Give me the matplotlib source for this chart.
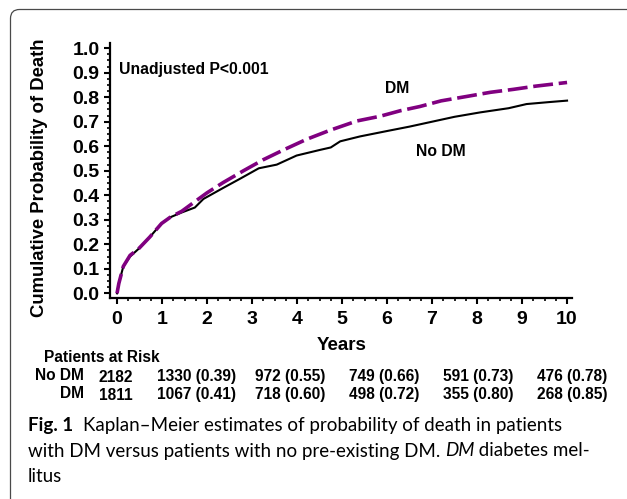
import matplotlib
matplotlib.use("Agg")
import matplotlib.pyplot as plt
from matplotlib.patches import FancyBboxPatch
from matplotlib.transforms import IdentityTransform
from matplotlib.ticker import MultipleLocator
import numpy as np

# Kaplan-Meier curves
t_nodm = [0, 0.04, 0.14, 0.29, 0.47, 0.73, 0.99, 1.18, 1.44, 1.73, 1.92, 2.36, 2.73,
          3.15, 3.55, 3.99, 4.51, 4.75, 4.96, 5.4, 6.0, 6.5, 7.0, 7.5, 8.07, 8.7,
          9.1, 9.6, 10]
p_nodm = [0, 0.04, 0.11, 0.15, 0.18, 0.23, 0.285, 0.31, 0.33, 0.35, 0.385, 0.43, 0.467,
          0.51, 0.525, 0.562, 0.585, 0.595, 0.62, 0.64, 0.662, 0.68, 0.70, 0.72, 0.738,
          0.755, 0.772, 0.78, 0.786]
t_dm = [0, 0.04, 0.14, 0.29, 0.47, 0.73, 0.99, 1.18, 1.44, 1.73, 2.0, 2.36, 2.81, 3.25,
        3.7, 4.21, 4.73, 5.33, 5.84, 6.3, 6.73, 7.2, 7.77, 8.3, 8.81, 9.3, 10]
p_dm = [0, 0.04, 0.11, 0.155, 0.18, 0.23, 0.285, 0.31, 0.335, 0.374, 0.41, 0.452, 0.5,
        0.545, 0.585, 0.628, 0.665, 0.703, 0.722, 0.745, 0.762, 0.785, 0.803, 0.82,
        0.832, 0.845, 0.86]

# patients at risk table
risk_groups = ["No DM", "DM"]
risk_start = ["2182", "1811"]
risk_nodm = ["1330 (0.39)", "972 (0.55)", "749 (0.66)", "591 (0.73)", "476 (0.78)"]
risk_dm = ["1067 (0.41)", "718 (0.60)", "498 (0.72)", "355 (0.80)", "268 (0.85)"]

caption_bold = "Fig. 1"
caption_lines = ["Kaplan\u2013Meier estimates of probability of death in patients",
                 "with DM versus patients with no pre-existing DM. ",
                 "litus"]

W, H = 627, 499
fig = plt.figure(figsize=(W / 100, H / 100), dpi=100)
plt.rcParams["font.family"] = ["Liberation Sans", "DejaVu Sans"]


def fx(x):
    return x / W


def fy(y):
    return 1 - y / H


# rounded frame around the figure panel
frame = FancyBboxPatch((10.5, -60), 700, H - 9.5 + 60,
                       boxstyle="round,pad=0,rounding_size=9",
                       transform=IdentityTransform(), fill=False,
                       edgecolor="#4a4a4a", linewidth=0.9)
fig.patches.append(frame)

ax = fig.add_axes([fx(110), fy(298), fx(572) - fx(110), fy(43) - fy(298)])
ax.plot(t_nodm, p_nodm, color="black", linewidth=1.5)
ax.plot(t_dm, p_dm, color="#800080", linewidth=2.6, dashes=(5.5, 1.6))

ax.set_xlim(-0.156, 10.11)
ax.set_ylim(-0.019, 1.021)
ax.spines["top"].set_visible(False)
ax.spines["right"].set_visible(False)
for s in ["left", "bottom"]:
    ax.spines[s].set_linewidth(1.6)
ax.set_xticks(range(0, 11))
ax.set_yticks(np.round(np.arange(0, 1.01, 0.1), 1))
ax.set_yticklabels([f"{v:.1f}" for v in np.arange(0, 1.01, 0.1)])
ax.xaxis.set_minor_locator(MultipleLocator(0.25))
ax.yaxis.set_minor_locator(MultipleLocator(0.025))
ax.tick_params(which="major", length=4.5, width=1.5, pad=5, labelsize=14)
ax.tick_params(which="minor", length=2, width=1.2)
ax.tick_params(axis="y", pad=3)
for lab in ax.get_xticklabels() + ax.get_yticklabels():
    lab.set_fontweight("bold")

ax.set_ylabel("Cumulative Probability of Death", fontsize=13.3, fontweight="bold")
ax.yaxis.set_label_coords((48 - 110) / (572 - 110), (298 - 178) / (298 - 43))

ax.text(0.04, 0.911, "Unadjusted P<0.001", fontsize=11.3, fontweight="bold",
        ha="left", va="center")
ax.text(6.23, 0.834, "DM", fontsize=11.3, fontweight="bold", ha="center", va="center")
ax.text(7.2, 0.577, "No DM", fontsize=11.3, fontweight="bold", ha="center", va="center")

fig.text(fx(342), fy(346), "Years", fontsize=13.5, fontweight="bold",
         ha="center", va="center")

# patients at risk table
fig.text(fx(44), fy(357), "Patients at Risk", fontsize=11.2, fontweight="bold",
         ha="left", va="center")
col_x = [196.5 + 94 * k for k in range(5)]
for row_y, grp, start, vals in zip([376, 394], risk_groups, risk_start,
                                   [risk_nodm, risk_dm]):
    fig.text(fx(84), fy(row_y), grp, fontsize=11.2, fontweight="bold",
             ha="right", va="center")
    fig.text(fx(116), fy(row_y + 2), start, fontsize=11.2, fontweight="bold",
             ha="center", va="center")
    for cx, v in zip(col_x, vals):
        fig.text(fx(cx), fy(row_y), v, fontsize=11.2, fontweight="bold",
                 ha="center", va="center")

# caption
cap_font = ["Lato", "DejaVu Sans"]
cap_size = 13.5
fig.text(fx(28), fy(425), caption_bold, fontsize=cap_size, fontweight="bold",
         family=cap_font, ha="left", va="center")
fig.text(fx(83), fy(425), caption_lines[0], fontsize=cap_size, family=cap_font,
         ha="left", va="center")
t2 = fig.text(fx(28), fy(451), caption_lines[1], fontsize=cap_size, family=cap_font,
              ha="left", va="center")
fig.canvas.draw()
bb = t2.get_window_extent()
t3 = fig.text(bb.x1 / W, fy(451), "DM", fontsize=cap_size, family=cap_font,
              style="italic", ha="left", va="center")
bb3 = t3.get_window_extent()
fig.text(bb3.x1 / W, fy(451), " diabetes mel-", fontsize=cap_size, family=cap_font,
         ha="left", va="center")
fig.text(fx(28), fy(476), caption_lines[2], fontsize=cap_size, family=cap_font,
         ha="left", va="center")

fig.savefig("out.png", dpi=100)
